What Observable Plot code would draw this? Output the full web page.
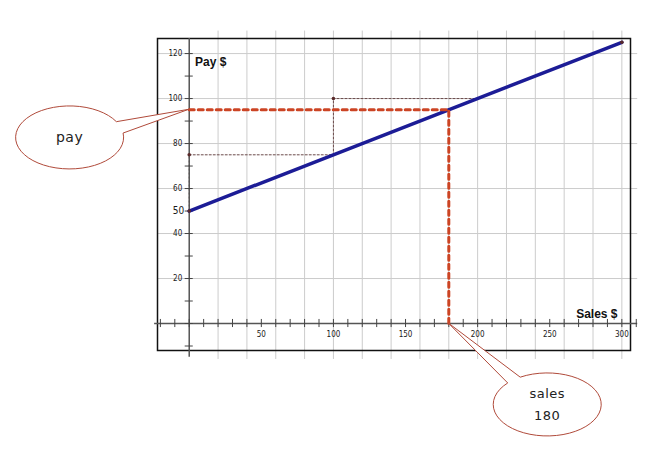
<!DOCTYPE html>
<html><head><meta charset="utf-8">
<script src="https://cdn.jsdelivr.net/npm/d3@7"></script>
<script src="https://cdn.jsdelivr.net/npm/@observablehq/plot@0.6"></script>
<style>body{margin:0;background:#fff}</style>
</head><body><div id="chart"></div>
<script>
// ---- data ----
const sales = [0, 300];
const pay = [50, 125];
const readSales = 180;
const readPay = 95;
const guideX = [0, 100, 100, 200];
const guideY = [75, 75, 100, 100];
const markerX = [0, 100, 0, 300];
const markerY = [75, 100, 50, 125];
const xTicks = [-20,-10,0,10,20,30,40,50,60,70,80,90,100,110,120,130,140,150,160,170,180,190,200,210,220,230,240,250,260,270,280,290,300,310];
const yTicks = [-10,0,10,20,30,40,50,60,70,80,90,100,110,120];
const xTickLabels = [50,100,150,200,250,300];
const yTickLabels = [20,40,60,80,100,120];
const yBigLabel = [50];
const xGrid = [20,40,60,80,100,120,140,160,180,200,220,240,260,280,300];
const yGrid = [20,40,60,80,100,120];
const callouts = [
  {lines:["pay"], tipX:0, tipY:95, cx:-82.6, cy:82.5, a1:-8, a2:-30},
  {lines:["sales","180"], tipX:180, tipY:0, cx:248.6, cy:-36.2, a1:-120, a2:-137}
];

const line = sales.map((s,i)=>({s, p:pay[i]}));
const guide = guideX.map((x,i)=>({x, y:guideY[i]}));
const markers = markerX.map((x,i)=>({x, y:markerY[i]}));
const reading = [{x:0,y:readPay},{x:readSales,y:readPay},{x:readSales,y:0}];
const xt = xTicks.map(v=>({v, a:-1.8, b:1.8}));
const yt = yTicks.map(v=>({v, a:-2.8, b:2.8}));
const xg = xGrid.map(v=>({v, a:-16, b:130}));
const yg = yGrid.map(v=>({v, a:-22, b:311}));
const xl = xTickLabels.map(v=>({v, y:0}));
const yl = yTickLabels.map(v=>({v, x:0}));
const yb = yBigLabel.map(v=>({v, x:0}));
const tickFont = "DejaVu Sans Condensed, DejaVu Sans, sans-serif";

try {
const plot = Plot.plot({
  width: 671, height: 453,
  marginLeft: 157, marginRight: 41, marginTop: 38, marginBottom: 103,
  x: {type: "linear", domain: [-22, 306], axis: null},
  y: {type: "linear", domain: [-12, 126.7], axis: null},
  style: {fontFamily: "Liberation Sans, Arial, sans-serif", background: "#fff"},
  marks: [
    Plot.ruleX(xg, {x: "v", y1: "a", y2: "b", stroke: "#cccccc", strokeWidth: 1}),
    Plot.ruleY(yg, {y: "v", x1: "a", x2: "b", stroke: "#cccccc", strokeWidth: 1}),
    Plot.frame({stroke: "#111", strokeWidth: 1.5}),
    Plot.line(guide, {x:"x", y:"y", stroke:"#6b4a4a", strokeWidth:1, strokeDasharray:"2,2"}),
    Plot.ruleX([{x:0,a:50,b:75}], {x:"x", y1:"a", y2:"b", stroke:"#6b4a4a", strokeWidth:1, strokeDasharray:"2,2"}),
    Plot.ruleY([{y:0,a:-24,b:311}], {y:"y", x1:"a", x2:"b", stroke: "#555", strokeWidth: 1.5}),
    Plot.ruleX([{x:0,a:-15,b:126.7}], {x:"x", y1:"a", y2:"b", stroke: "#555", strokeWidth: 1.5}),
    Plot.ruleX(xt, {x: "v", y1: "a", y2: "b", stroke:"#444", strokeWidth:1}),
    Plot.ruleY(yt, {y: "v", x1: "a", x2: "b", stroke:"#444", strokeWidth:1}),
    Plot.text(xl, {x: "v", y: "y", dy: 11, text: d=>String(d.v), fontSize: 8, fill:"#1a1a1a", fontFamily: tickFont}),
    Plot.text(yl, {y: "v", x: "x", dx: -7, text: d=>String(d.v), fontSize: 8, fill:"#1a1a1a", textAnchor:"end", fontFamily: tickFont}),
    Plot.text(yb, {y: "v", x: "x", dx: -5, text: d=>String(d.v), fontSize: 10, fill:"#1a1a1a", textAnchor:"end", fontFamily: tickFont}),
    Plot.line(line, {x:"s", y:"p", stroke:"#1c1c96", strokeWidth:3.5}),
    Plot.line(reading, {x:"x", y:"y", stroke:"#cc4424", strokeWidth:3, strokeDasharray:"5,4"}),
    Plot.dot(markers, {x:"x", y:"y", r:1.8, fill:"#5a2a2a"}),
    Plot.text([{t:"Pay $", x:4, y:116}], {x:"x", y:"y", text:"t", textAnchor:"start", fontWeight:"bold", fontSize: 12, fill:"#111"}),
    Plot.text([{t:"Sales $", x:297, y:4}], {x:"x", y:"y", text:"t", textAnchor:"end", fontWeight:"bold", fontSize: 12, fill:"#111"})
  ]
});
document.getElementById("chart").appendChild(plot);

const X = plot.scale("x").apply, Y = plot.scale("y").apply;
const svg = d3.select(plot);
const rx = 54, ry = 31.5;
const g = svg.append("g");
callouts.forEach(c=>{
  const cx = X(c.cx), cy = Y(c.cy);
  const P = t => [cx + rx*Math.cos(t*Math.PI/180), cy + ry*Math.sin(t*Math.PI/180)];
  const p1 = P(c.a1), p2 = P(c.a2);
  const d = `M${p1[0]},${p1[1]} A${rx},${ry} 0 1 1 ${p2[0]},${p2[1]} L${X(c.tipX)},${Y(c.tipY)} Z`;
  g.append("path").attr("d", d).attr("fill","#fff").attr("stroke","#b04a3a").attr("stroke-width",1);
  const n = c.lines.length;
  c.lines.forEach((t,i)=>{
    g.append("text").attr("x",cx).attr("y", cy + (i-(n-1)/2)*22).attr("dy","0.35em")
      .attr("text-anchor","middle").attr("font-family","DejaVu Sans, sans-serif")
      .attr("font-size", n === 1 ? 14 : 13).attr("letter-spacing","0.5px").attr("fill","#222").text(t);
  });
});
} catch(e) { document.body.insertAdjacentHTML("beforeend", "<pre>"+e.stack+"</pre>"); }
</script>
</body></html>
